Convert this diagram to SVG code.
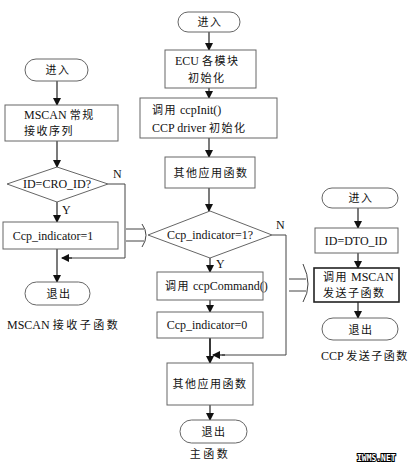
<svg xmlns="http://www.w3.org/2000/svg" width="409" height="468" viewBox="0 0 409 468">
<defs>
<marker id="ah" markerWidth="8" markerHeight="8" refX="7" refY="4" orient="auto" markerUnits="userSpaceOnUse">
<path d="M0,0 L8,4 L0,8 Z" fill="#111"/>
</marker>
</defs>
<style>
.box{fill:#fff;stroke:#666;stroke-width:1}
.bold{stroke:#222;stroke-width:1.6}
.ln{fill:none;stroke:#444;stroke-width:1}
.ar{fill:none;stroke:#222;stroke-width:1.2;marker-end:url(#ah)}
.t{font-family:"Liberation Serif","Noto Sans CJK SC",serif;font-size:12px;fill:#111}
.c{text-anchor:middle}
.cj{font-size:11px;letter-spacing:1.5px}
.cw{font-size:11px;letter-spacing:2.5px}
.wm{font-family:"DejaVu Sans Mono",monospace;font-size:8px;font-weight:bold;fill:#fff;stroke:#000;stroke-width:2;paint-order:stroke}
</style>
<rect width="409" height="468" fill="#fff"/>

<g id="connectors">
<line class="ar" x1="57" y1="81" x2="57" y2="105"/>
<line class="ar" x1="57" y1="141" x2="57" y2="167"/>
<line class="ar" x1="57" y1="202" x2="57" y2="222"/>
<polyline class="ln" points="108,184 125,184 125,258 66,258"/>
<line class="ar" x1="72" y1="258" x2="62" y2="258"/>
<line class="ar" x1="57" y1="249" x2="57" y2="282"/>
<line class="ar" x1="209" y1="32" x2="209" y2="50"/>
<line class="ar" x1="209" y1="88" x2="209" y2="98"/>
<line class="ar" x1="209" y1="138" x2="209" y2="157"/>
<line class="ar" x1="209" y1="188" x2="209" y2="211"/>
<line class="ar" x1="210" y1="258" x2="210" y2="272"/>
<line class="ar" x1="210" y1="300" x2="210" y2="312"/>
<line class="ar" x1="210" y1="338" x2="210" y2="363" style="stroke-width:1.8"/>
<polyline class="ln" points="272,235 286,235 286,355 222,355"/>
<line class="ar" x1="225" y1="355" x2="213" y2="355"/>
<line class="ar" x1="210" y1="405" x2="210" y2="420"/>
<line class="ar" x1="358" y1="208" x2="358" y2="228"/>
<line class="ar" x1="358" y1="253" x2="358" y2="268"/>
<line class="ar" x1="358" y1="302" x2="358" y2="318"/>
<line class="ln" x1="126" y1="229" x2="144" y2="229"/>
<line class="ln" x1="126" y1="241" x2="144" y2="241"/>
<path class="ln" d="M142,224 Q150,235 142,247"/>
<line class="ln" x1="289" y1="279" x2="306" y2="279"/>
<line class="ln" x1="289" y1="291" x2="306" y2="291"/>
<path class="ln" d="M303,264 Q313,285 303,302"/>
</g>

<g id="l-start"><rect class="box" x="25" y="59" width="63" height="22" rx="11"/><text class="t c cj" x="58" y="74">进入</text></g>
<g id="l-recv"><rect class="box" x="5" y="105" width="113" height="36"/><text class="t" x="24" y="119">MSCAN <tspan class="cj">常规</tspan></text><text class="t cj" x="24" y="135">接收序列</text></g>
<g id="l-dec"><polygon class="box" points="7,184 57,167 108,184 57,202"/><text class="t c" x="57" y="188">ID=CRO_ID?</text><text class="t" x="113" y="178">N</text><text class="t" x="62" y="214">Y</text></g>
<g id="l-set"><rect class="box" x="3" y="222" width="115" height="27"/><text class="t c" x="53" y="240">Ccp_indicator=1</text></g>
<g id="l-end"><rect class="box" x="25" y="282" width="65" height="23" rx="11.5"/><text class="t c cj" x="59" y="298">退出</text></g>
<text class="t" x="7" y="329">MSCAN <tspan class="cw">接收子函数</tspan></text>

<g id="m-start"><rect class="box" x="178" y="12" width="62" height="20" rx="10"/><text class="t c cj" x="210" y="26">进入</text></g>
<g id="m-ecu"><rect class="box" x="165" y="50" width="91" height="38"/><text class="t" x="175" y="65">ECU <tspan class="cj">各模块</tspan></text><text class="t cj" x="188" y="82">初始化</text></g>
<g id="m-init"><rect class="box" x="140" y="98" width="137" height="40"/><text class="t" x="152" y="114"><tspan class="cj">调用</tspan> ccpInit()</text><text class="t" x="152" y="132">CCP driver <tspan class="cj">初始化</tspan></text></g>
<g id="m-other1"><rect class="box" x="165" y="157" width="90" height="31"/><text class="t c cj" x="211" y="177">其他应用函数</text></g>
<g id="m-dec"><polygon class="box" points="148,235 210,211 272,235 210,258"/><text class="t c" x="210" y="239">Ccp_indicator=1?</text><text class="t" x="276" y="229">N</text><text class="t" x="216" y="268">Y</text></g>
<g id="m-cmd"><rect class="box" x="157" y="272" width="106" height="28"/><text class="t" x="165" y="290"><tspan class="cj">调用</tspan> ccpCommand()</text></g>
<g id="m-clr"><rect class="box" x="157" y="312" width="106" height="26"/><text class="t c" x="207" y="329">Ccp_indicator=0</text></g>
<g id="m-other2"><rect class="box" x="167" y="363" width="86" height="42"/><text class="t c cj" x="210" y="388">其他应用函数</text></g>
<g id="m-end"><rect class="box" x="180" y="420" width="67" height="23" rx="11.5"/><text class="t c cj" x="214" y="436">退出</text></g>
<text class="t c cw" x="210" y="458">主函数</text>

<g id="r-start"><rect class="box" x="322" y="188" width="76" height="20" rx="10"/><text class="t c cj" x="361" y="202">进入</text></g>
<g id="r-id"><rect class="box" x="315" y="228" width="83" height="25"/><text class="t c" x="356" y="245">ID=DTO_ID</text></g>
<g id="r-send"><rect class="box bold" x="314" y="268" width="85" height="34"/><text class="t" x="323" y="281"><tspan class="cj">调用</tspan> MSCAN</text><text class="t cj" x="323" y="297">发送子函数</text></g>
<g id="r-end"><rect class="box" x="322" y="318" width="76" height="22" rx="11"/><text class="t c cj" x="361" y="334">退出</text></g>
<text class="t" x="321" y="360">CCP <tspan class="cj">发送子函数</tspan></text>

<text class="wm" x="357" y="461">IWMS.NET</text>
</svg>
